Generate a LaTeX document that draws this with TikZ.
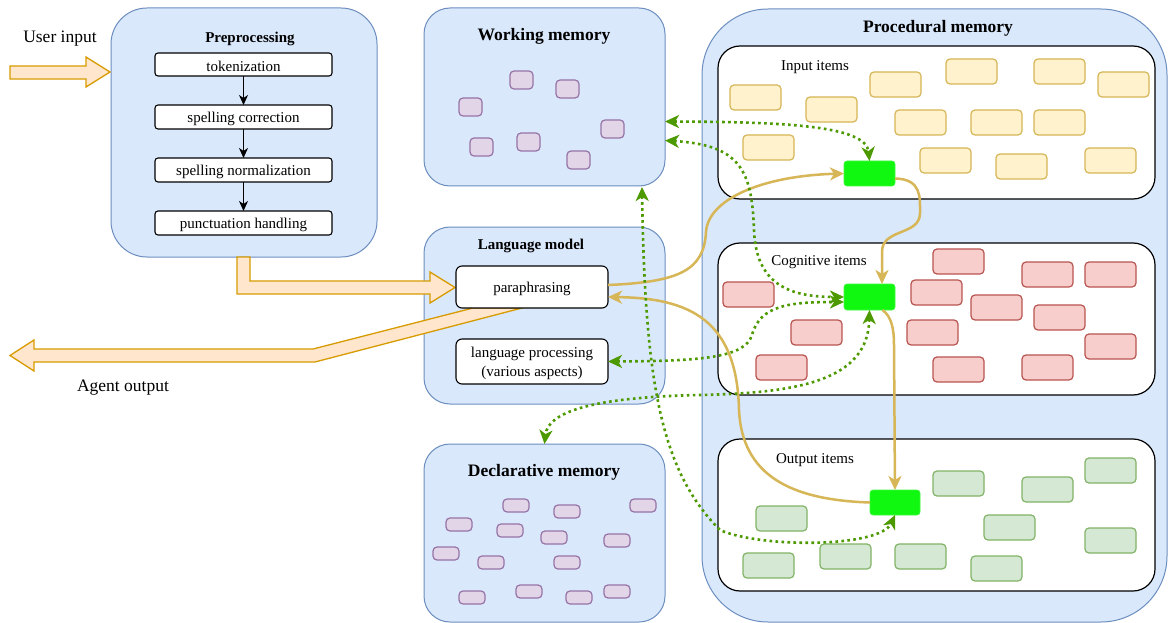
\documentclass[tikz,border=0pt]{standalone}
\usepackage{fontspec}
\setmainfont{Liberation Serif}
\usetikzlibrary{arrows.meta,calc}
\definecolor{blueF}{HTML}{DAE8FC}
\definecolor{blueD}{HTML}{6C8EBF}
\definecolor{orF}{HTML}{FFE6CC}
\definecolor{orD}{HTML}{D79B00}
\definecolor{yelF}{HTML}{FFF2CC}
\definecolor{yelD}{HTML}{D6B656}
\definecolor{redF}{HTML}{F8CECC}
\definecolor{redD}{HTML}{B85450}
\definecolor{grnF}{HTML}{D5E8D4}
\definecolor{grnD}{HTML}{82B366}
\definecolor{purF}{HTML}{E1D5E7}
\definecolor{purD}{HTML}{9673A6}
\definecolor{limeF}{HTML}{10F80F}
\definecolor{dotG}{HTML}{4D9900}
\definecolor{curveC}{HTML}{D6B656}
\tikzset{
  nw/.style={anchor=north west, inner sep=0pt, outer sep=0pt},
  container/.style={nw, draw=blueD, fill=blueF, line width=1pt},
  panel/.style={nw, draw=black, fill=white, line width=1.2pt, rounded corners=22pt},
  stepbox/.style={nw, draw=black, fill=white, line width=1.1pt, rounded corners=3pt, font=\fontsize{15}{18}\selectfont},
  item/.style={nw, line width=1.2pt, rounded corners=4pt},
  yitem/.style={item, draw=yelD, fill=yelF, minimum width=51pt, minimum height=25pt},
  ritem/.style={item, draw=redD, fill=redF, minimum width=51pt, minimum height=25pt},
  gitem/.style={item, draw=grnD, fill=grnF, minimum width=51pt, minimum height=25pt},
  witem/.style={item, draw=purD, fill=purF, minimum width=23pt, minimum height=18pt},
  ditem/.style={item, draw=purD, fill=purF, minimum width=26pt, minimum height=13pt},
  hub/.style={nw, fill=limeF, draw=limeF!80!white, line width=0.6pt, rounded corners=3pt},
  title/.style={font=\bfseries\fontsize{17.5}{20}\selectfont},
  stitle/.style={font=\bfseries\fontsize{15}{18}\selectfont},
  lbl/.style={font=\fontsize{15}{18}\selectfont},
  biglbl/.style={font=\fontsize{17.5}{20}\selectfont},
  blockarrow/.style={draw=orD, fill=orF, line width=1.3pt, line join=miter},
  gd/.style={draw=dotG, line width=2.6pt, dash pattern=on 2.6pt off 3.4pt,
    arrows={Stealth[length=14pt,width=13pt,inset=4pt]-Stealth[length=14pt,width=13pt,inset=4pt]}},
  oc/.style={draw=curveC, line width=2.5pt, -{Stealth[length=14pt,width=13pt,inset=4pt]}},
  ba/.style={draw=black, line width=1.2pt, -{Stealth[length=10pt,width=9pt,inset=3pt]}}
}
\begin{document}
\begin{tikzpicture}[x=1pt,y=-1pt]
\useasboundingbox (0,0) rectangle (1168,623);

% containers
\node[container, rounded corners=36pt, minimum width=266pt, minimum height=249pt] (pre) at (111,8) {};
\node[container, rounded corners=26pt, minimum width=241pt, minimum height=178pt] (wm) at (424,8) {};
\node[container, rounded corners=26pt, minimum width=241pt, minimum height=177pt] (lm) at (424,227) {};
\node[container, rounded corners=26pt, minimum width=241pt, minimum height=178pt] (dm) at (424,444) {};
\node[container, rounded corners=66pt, minimum width=465pt, minimum height=613pt] (pm) at (702,9) {};

% titles
\node[stitle] (preT) at (250,39) {Preprocessing};
\node[title] (wmT) at (544,36.5) {Working memory};
\node[stitle] (lmT) at (531,246) {Language model};
\node[title] (dmT) at (544,472.5) {Declarative memory};
\node[title] (pmT) at (938,28.5) {Procedural memory};
\node[biglbl] (uin) at (60,38.5) {User input};
\node[biglbl] (aout) at (123,387.5) {Agent output};

% working memory items
\foreach \px/\py [count=\i] in {510/71,556/80,459/98,601/120,470/138,517/133,567/151}
  \node[witem] (w\i) at (\px,\py) {};
% declarative memory items
\foreach \px/\py [count=\i] in {503/499,554/505,630/499,446/518,497/524,541/531,604/534,433/547,478/556,554/556,459/591,516/585,566/591,604/585}
  \node[ditem] (d\i) at (\px,\py) {};

% procedural panels
\node[panel, minimum width=437pt, minimum height=153pt] (pin) at (718,46) {};
\node[panel, minimum width=437pt, minimum height=152pt] (pcog) at (718,243) {};
\node[panel, minimum width=437pt, minimum height=152pt] (pout) at (718,439) {};
\node[lbl] (pinT) at (815,67) {Input items};
\node[lbl] (pcogT) at (819,262) {Cognitive items};
\node[lbl] (poutT) at (815,460) {Output items};

\foreach \px/\py [count=\i] in {730/85,806/97,870/72,946/59,1034/59,1098/72,895/110,971/110,1034/110,743/135,920/148,996/154,1085/148}
  \node[yitem] (y\i) at (\px,\py) {};
\foreach \px/\py [count=\i] in {723/282,791/320,756/355,933/249,911/280,971/295,907/320,933/357,1022/262,1085/262,1034/305,1085/334,1022/355}
  \node[ritem] (r\i) at (\px,\py) {};
\foreach \px/\py [count=\i] in {756/506,743/553,820/544,895/544,933/471,984/515,971/556,1022/477,1085/458,1085/528}
  \node[gitem] (g\i) at (\px,\py) {};

\node[hub, minimum width=51pt, minimum height=25pt] (gIn) at (844,161) {};
\node[hub, minimum width=51pt, minimum height=26pt] (gCog) at (844,284) {};
\node[hub, minimum width=50pt, minimum height=25pt] (gOut) at (870,490) {};

% block arrows
\draw[blockarrow] (10,66) -- (86,66) -- (86,57) -- (110,72) -- (86,87) -- (86,79) -- (10,79) -- cycle;
\draw[blockarrow] (237,257) -- (250,257) -- (250,281) -- (430,281) -- (430,272) -- (455,287.5) -- (430,303) -- (430,294) -- (237,294) -- cycle;
\draw[blockarrow] (473,308) -- (313,349) -- (34,349) -- (34,340) -- (10,355.5) -- (34,371) -- (34,362) -- (315,362) -- (522,308) -- cycle;

% preprocessing steps
\node[stepbox, minimum width=177pt, minimum height=23pt] (tok) at (155,53) {};
\node[lbl] at ([yshift=-1.5pt]tok.center) {tokenization};
\node[stepbox, minimum width=177pt, minimum height=24pt] (sc) at (155,105) {};
\node[lbl] at ([yshift=-1.5pt]sc.center) {spelling correction};
\node[stepbox, minimum width=177pt, minimum height=24pt] (sn) at (155,158) {};
\node[lbl] at ([yshift=-1.5pt]sn.center) {spelling normalization};
\node[stepbox, minimum width=177pt, minimum height=24pt] (ph) at (155,211) {};
\node[lbl] at ([yshift=-1.5pt]ph.center) {punctuation handling};
\draw[ba] (tok.south) -- (sc.north);
\draw[ba] (sc.south) -- (sn.north);
\draw[ba] (sn.south) -- (ph.north);

% language model boxes
\node[stepbox, rounded corners=6pt, minimum width=152pt, minimum height=42pt] (para) at (456,266) {};
\node[lbl] at ([yshift=-1.5pt]para.center) {paraphrasing};
\node[stepbox, rounded corners=6pt, minimum width=152pt, minimum height=45pt] (lp) at (456,339) {};
\node[lbl, align=center, font=\fontsize{15}{19}\selectfont] at ([yshift=-1.5pt]lp.center) {language processing\\(various aspects)};

% orange curves
\draw[oc] ([yshift=2pt]para.east) .. controls (680,282) and (704,270) .. (706,232)
   .. controls (708,200) and (760,176) .. (gIn.west);
\draw[oc] ([yshift=-5pt]gIn.east) .. controls (922,179) and (920,198) .. (920,213)
   .. controls (920,236) and (882,228) .. (882,252) -- ([xshift=12.5pt]gCog.north);
\draw[oc] ([xshift=13pt]gCog.south) .. controls (892,317) and (894,330) .. (894,345) -- (gOut.north);
\draw[oc] (gOut.west) .. controls (790,500) and (742,475) .. (739,410)
   .. controls (737,320) and (690,298) .. ([yshift=-10pt]para.east);

% green dotted connectors
\draw[gd] ([yshift=-24.5pt]wm.east) .. controls (780,122) and (866,125) .. (gIn.north);
\draw[gd] ([yshift=-43.5pt]wm.east) .. controls (740,145) and (752,170) .. (754,230)
   .. controls (756,285) and (790,297) .. (gCog.west);
\draw[gd] (lp.east) .. controls (700,361) and (745,358) .. (752,335)
   .. controls (760,305) and (790,302) .. ([yshift=-5pt]gCog.west);
\draw[gd] (gCog.south) .. controls (868,380) and (800,393) .. (700,395)
   .. controls (600,397) and (548,410) .. (dm.north);
\draw[gd] ([xshift=97.5pt,yshift=-1pt]wm.south) .. controls (645,380) and (660,470) .. (720,530)
   .. controls (760,548) and (880,548) .. (gOut.south);
\end{tikzpicture}
\end{document}
